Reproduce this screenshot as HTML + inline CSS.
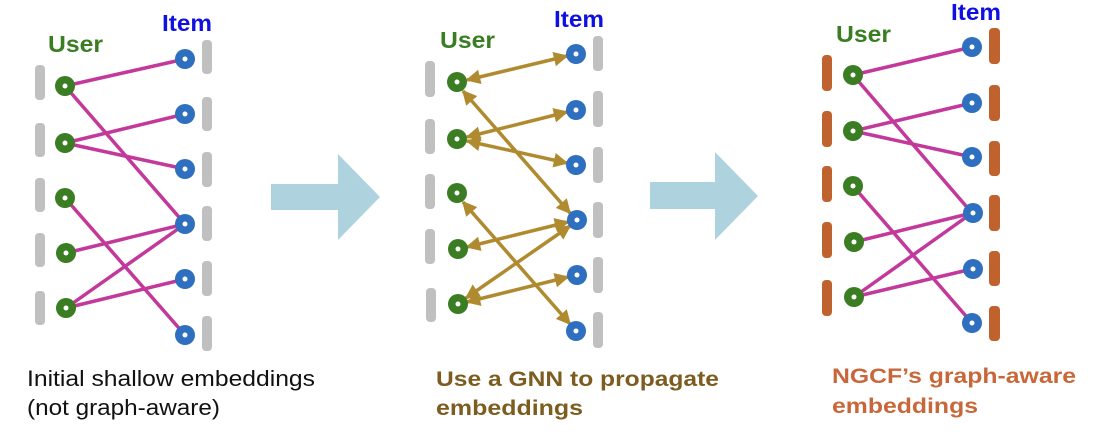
<!DOCTYPE html>
<html><head><meta charset="utf-8"><style>
html,body{margin:0;padding:0;background:#fff;}
svg{display:block;}
text{font-family:"Liberation Sans",Arial,sans-serif;}
</style></head><body>
<svg width="1094" height="434" viewBox="0 0 1094 434" xmlns="http://www.w3.org/2000/svg">
<defs>
<marker id="ah" viewBox="0 0 10 10" refX="9" refY="5" markerWidth="4.2" markerHeight="4.2" orient="auto-start-reverse" markerUnits="strokeWidth">
<path d="M0,0 L10,5 L0,10 z" fill="#b08a2e"/>
</marker>
</defs>

<!-- Panel 1 -->
<g fill="#c0c0c0">
<rect x="35" y="65" width="10" height="35" rx="4"/>
<rect x="35" y="123" width="10" height="34" rx="4"/>
<rect x="35" y="178" width="10" height="34" rx="4"/>
<rect x="35" y="233" width="10" height="34" rx="4"/>
<rect x="35" y="291" width="10" height="34" rx="4"/>
<rect x="202" y="40" width="10" height="34" rx="4"/>
<rect x="202" y="97" width="10" height="34" rx="4"/>
<rect x="202" y="152" width="10" height="35" rx="4"/>
<rect x="202" y="206" width="10" height="35" rx="4"/>
<rect x="202" y="261" width="10" height="35" rx="4"/>
<rect x="202" y="316" width="10" height="35" rx="4"/>
</g>
<g stroke="#c3389b" stroke-width="3.5" stroke-linecap="round">
<line x1="65" y1="86" x2="185" y2="59"/>
<line x1="65" y1="86" x2="185" y2="224"/>
<line x1="65" y1="143" x2="185" y2="114"/>
<line x1="65" y1="143" x2="185" y2="169"/>
<line x1="65" y1="198" x2="185" y2="335"/>
<line x1="66" y1="253" x2="185" y2="224"/>
<line x1="66" y1="308" x2="185" y2="224"/>
<line x1="66" y1="308" x2="185" y2="279"/>
</g>
<g fill="#3a7d22">
<circle cx="65" cy="86" r="10"/><circle cx="65" cy="143" r="10"/><circle cx="65" cy="198" r="10"/><circle cx="66" cy="253" r="10"/><circle cx="66" cy="308" r="10"/>
</g>
<g fill="#2f6fbf">
<circle cx="185" cy="59" r="10"/><circle cx="185" cy="114" r="10"/><circle cx="185" cy="169" r="10"/><circle cx="185" cy="224" r="10"/><circle cx="185" cy="279" r="10"/><circle cx="185" cy="335" r="10"/>
</g>
<g fill="#fff">
<circle cx="65" cy="86" r="2.5"/><circle cx="65" cy="143" r="2.5"/><circle cx="65" cy="198" r="2.5"/><circle cx="66" cy="253" r="2.5"/><circle cx="66" cy="308" r="2.5"/>
<circle cx="185" cy="59" r="2.5"/><circle cx="185" cy="114" r="2.5"/><circle cx="185" cy="169" r="2.5"/><circle cx="185" cy="224" r="2.5"/><circle cx="185" cy="279" r="2.5"/><circle cx="185" cy="335" r="2.5"/>
</g>
<text x="48" y="52" font-size="23" font-weight="bold" fill="#3a7d22" textLength="55" lengthAdjust="spacingAndGlyphs">User</text>
<text x="162" y="31" font-size="23" font-weight="bold" fill="#1010e0" textLength="50" lengthAdjust="spacingAndGlyphs">Item</text>
<text x="27" y="386" font-size="22" fill="#111" textLength="288" lengthAdjust="spacingAndGlyphs">Initial shallow embeddings</text>
<text x="27" y="415" font-size="22" fill="#111" textLength="193" lengthAdjust="spacingAndGlyphs">(not graph-aware)</text>

<!-- Arrow 1 -->
<polygon points="271,184 338,184 338,154 380,197 338,240 338,210 271,210" fill="#aed3df"/>

<!-- Panel 2 -->
<g fill="#c0c0c0">
<rect x="425" y="61" width="10" height="36" rx="4"/>
<rect x="425" y="119" width="10" height="35" rx="4"/>
<rect x="425" y="174" width="10" height="35" rx="4"/>
<rect x="425" y="229" width="10" height="35" rx="4"/>
<rect x="426" y="288" width="10" height="34" rx="4"/>
<rect x="593" y="36" width="10" height="35" rx="4"/>
<rect x="593" y="91" width="10" height="36" rx="4"/>
<rect x="593" y="147" width="10" height="36" rx="4"/>
<rect x="593" y="202" width="10" height="36" rx="4"/>
<rect x="593" y="257" width="10" height="36" rx="4"/>
<rect x="593" y="312" width="10" height="36" rx="4"/>
</g>
<g stroke="#b08a2e" stroke-width="3.5" marker-start="url(#ah)" marker-end="url(#ah)">
<line x1="467" y1="80" x2="567" y2="56"/>
<line x1="463" y1="91" x2="570" y2="213"/>
<line x1="467" y1="137" x2="567" y2="112"/>
<line x1="467" y1="141" x2="567" y2="163"/>
<line x1="463" y1="202" x2="570" y2="324"/>
<line x1="467" y1="247" x2="568" y2="222"/>
<line x1="466" y1="298" x2="570" y2="226"/>
<line x1="467" y1="302" x2="568" y2="277"/>
</g>
<g fill="#3a7d22">
<circle cx="457" cy="82" r="10"/><circle cx="457" cy="139" r="10"/><circle cx="457" cy="193" r="10"/><circle cx="458" cy="249" r="10"/><circle cx="458" cy="304" r="10"/>
</g>
<g fill="#2f6fbf">
<circle cx="576" cy="54" r="10"/><circle cx="576" cy="110" r="10"/><circle cx="576" cy="165" r="10"/><circle cx="577" cy="220" r="10"/><circle cx="577" cy="275" r="10"/><circle cx="576" cy="331" r="10"/>
</g>
<g fill="#fff">
<circle cx="457" cy="82" r="2.5"/><circle cx="457" cy="139" r="2.5"/><circle cx="457" cy="193" r="2.5"/><circle cx="458" cy="249" r="2.5"/><circle cx="458" cy="304" r="2.5"/>
<circle cx="576" cy="54" r="2.5"/><circle cx="576" cy="110" r="2.5"/><circle cx="576" cy="165" r="2.5"/><circle cx="577" cy="220" r="2.5"/><circle cx="577" cy="275" r="2.5"/><circle cx="576" cy="331" r="2.5"/>
</g>
<text x="440" y="48" font-size="23" font-weight="bold" fill="#3a7d22" textLength="55" lengthAdjust="spacingAndGlyphs">User</text>
<text x="554" y="27" font-size="23" font-weight="bold" fill="#1010e0" textLength="50" lengthAdjust="spacingAndGlyphs">Item</text>
<text x="436" y="386" font-size="21" font-weight="bold" fill="#7d5d1f" textLength="283" lengthAdjust="spacingAndGlyphs">Use a GNN to propagate</text>
<text x="436" y="415" font-size="21" font-weight="bold" fill="#7d5d1f" textLength="147" lengthAdjust="spacingAndGlyphs">embeddings</text>

<!-- Arrow 2 -->
<polygon points="650,182 715,182 715,152 758,196 715,240 715,209 650,209" fill="#aed3df"/>

<!-- Panel 3 -->
<g fill="#c0622e">
<rect x="822" y="55" width="10" height="36" rx="4"/>
<rect x="822" y="111" width="10" height="36" rx="4"/>
<rect x="822" y="166" width="10" height="36" rx="4"/>
<rect x="822" y="222" width="10" height="36" rx="4"/>
<rect x="822" y="280" width="10" height="36" rx="4"/>
<rect x="989" y="28" width="11" height="36" rx="4"/>
<rect x="989" y="85" width="11" height="36" rx="4"/>
<rect x="989" y="141" width="11" height="35" rx="4"/>
<rect x="989" y="195" width="11" height="36" rx="4"/>
<rect x="989" y="251" width="11" height="35" rx="4"/>
<rect x="989" y="306" width="11" height="35" rx="4"/>
</g>
<g stroke="#c3389b" stroke-width="3.5" stroke-linecap="round">
<line x1="853" y1="75" x2="972" y2="47"/>
<line x1="853" y1="75" x2="972" y2="213"/>
<line x1="853" y1="131" x2="972" y2="103"/>
<line x1="853" y1="131" x2="972" y2="157"/>
<line x1="853" y1="186" x2="972" y2="323"/>
<line x1="854" y1="242" x2="972" y2="213"/>
<line x1="854" y1="297" x2="972" y2="213"/>
<line x1="854" y1="297" x2="972" y2="269"/>
</g>
<g fill="#3a7d22">
<circle cx="853" cy="75" r="10"/><circle cx="853" cy="131" r="10"/><circle cx="853" cy="186" r="10"/><circle cx="854" cy="242" r="10"/><circle cx="854" cy="297" r="10"/>
</g>
<g fill="#2f6fbf">
<circle cx="972" cy="47" r="10"/><circle cx="972" cy="103" r="10"/><circle cx="972" cy="157" r="10"/><circle cx="973" cy="213" r="10"/><circle cx="973" cy="269" r="10"/><circle cx="972" cy="323" r="10"/>
</g>
<g fill="#fff">
<circle cx="853" cy="75" r="2.5"/><circle cx="853" cy="131" r="2.5"/><circle cx="853" cy="186" r="2.5"/><circle cx="854" cy="242" r="2.5"/><circle cx="854" cy="297" r="2.5"/>
<circle cx="972" cy="47" r="2.5"/><circle cx="972" cy="103" r="2.5"/><circle cx="972" cy="157" r="2.5"/><circle cx="973" cy="213" r="2.5"/><circle cx="973" cy="269" r="2.5"/><circle cx="972" cy="323" r="2.5"/>
</g>
<text x="836" y="42" font-size="23" font-weight="bold" fill="#3a7d22" textLength="55" lengthAdjust="spacingAndGlyphs">User</text>
<text x="951" y="20" font-size="23" font-weight="bold" fill="#1010e0" textLength="50" lengthAdjust="spacingAndGlyphs">Item</text>
<text x="832" y="383" font-size="21" font-weight="bold" fill="#c8683a" textLength="244" lengthAdjust="spacingAndGlyphs">NGCF’s graph-aware</text>
<text x="832" y="413" font-size="21" font-weight="bold" fill="#c8683a" textLength="146" lengthAdjust="spacingAndGlyphs">embeddings</text>
</svg>
</body></html>
